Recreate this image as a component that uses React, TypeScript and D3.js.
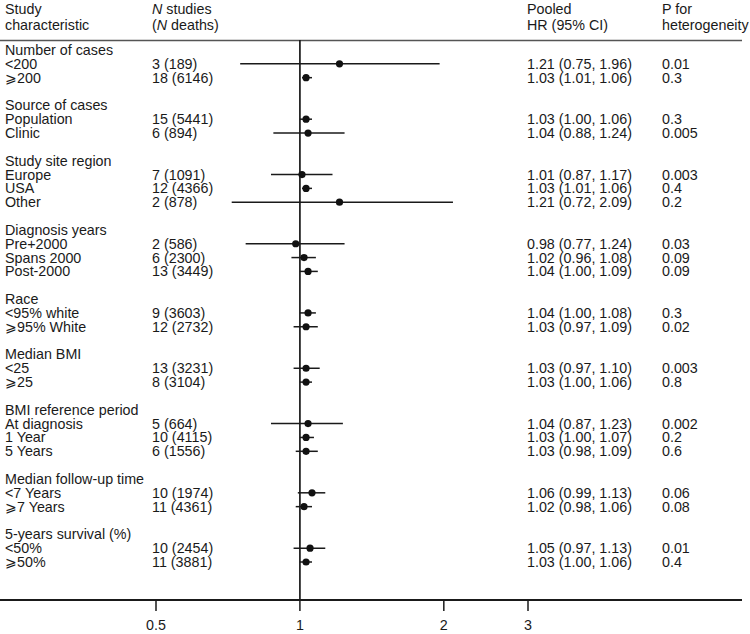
import React from "react";
import * as d3 from "d3";

const groupTitles = [
  "Number of cases",
  "Source of cases",
  "Study site region",
  "Diagnosis years",
  "Race",
  "Median BMI",
  "BMI reference period",
  "Median follow-up time",
  "5-years survival (%)",
];
const groupSizes = [2, 2, 3, 3, 2, 2, 3, 2, 2];
const subLabels = [
  "<200", "⩾200",
  "Population", "Clinic",
  "Europe", "USA", "Other",
  "Pre+2000", "Spans 2000", "Post-2000",
  "<95% white", "⩾95% White",
  "<25", "⩾25",
  "At diagnosis", "1 Year", "5 Years",
  "<7 Years", "⩾7 Years",
  "<50%", "⩾50%",
];
const nStudies = [
  "3 (189)", "18 (6146)",
  "15 (5441)", "6 (894)",
  "7 (1091)", "12 (4366)", "2 (878)",
  "2 (586)", "6 (2300)", "13 (3449)",
  "9 (3603)", "12 (2732)",
  "13 (3231)", "8 (3104)",
  "5 (664)", "10 (4115)", "6 (1556)",
  "10 (1974)", "11 (4361)",
  "10 (2454)", "11 (3881)",
];
const hr = [1.21, 1.03, 1.03, 1.04, 1.01, 1.03, 1.21, 0.98, 1.02, 1.04, 1.04, 1.03, 1.03, 1.03, 1.04, 1.03, 1.03, 1.06, 1.02, 1.05, 1.03];
const lo = [0.75, 1.01, 1.0, 0.88, 0.87, 1.01, 0.72, 0.77, 0.96, 1.0, 1.0, 0.97, 0.97, 1.0, 0.87, 1.0, 0.98, 0.99, 0.98, 0.97, 1.0];
const hi = [1.96, 1.06, 1.06, 1.24, 1.17, 1.06, 2.09, 1.24, 1.08, 1.09, 1.08, 1.09, 1.1, 1.06, 1.23, 1.07, 1.09, 1.13, 1.06, 1.13, 1.06];
const pHet = [
  "0.01", "0.3",
  "0.3", "0.005",
  "0.003", "0.4", "0.2",
  "0.03", "0.09", "0.09",
  "0.3", "0.02",
  "0.003", "0.8",
  "0.002", "0.2", "0.6",
  "0.06", "0.08",
  "0.01", "0.4",
];
const tickValues = [0.5, 1, 2, 3];

const FONT = "'Liberation Sans', Arial, Helvetica, sans-serif";

export default function App() {
  const W = 750, H = 634;
  const x = d3.scaleLog().domain([0.5, 3]).range([156, 528]);

  // build line indices
  const headers: { title: string; line: number }[] = [];
  const rows: { i: number; line: number }[] = [];
  let line = 0;
  let k = 0;
  groupTitles.forEach((t, g) => {
    headers.push({ title: t, line });
    line++;
    for (let j = 0; j < groupSizes[g]; j++) {
      rows.push({ i: k, line });
      k++;
      line++;
    }
    line++;
  });
  const lastLine = line - 2;
  const y = d3.scaleLinear().domain([0, lastLine]).range([50, 562]);

  const fs = 14.3;
  const dy = 5;
  const axisY = 600;
  const xLabel = 5, xN = 152, xHR = 527, xP = 662;

  return (
    <svg width={W} height={H} style={{ position: "absolute", left: 0, top: 0, background: "#fff" }} fontFamily={FONT} fontSize={fs}>
      <rect x={0} y={0} width={W} height={H} fill="#fff" />
      {/* column headers */}
      <g fill="#1a1a1a">
        <text x={xLabel} y={9 + dy}>Study</text>
        <text x={xLabel} y={25 + dy}>characteristic</text>
        <text x={xN} y={9 + dy}><tspan fontStyle="italic">N</tspan> studies</text>
        <text x={xN} y={25 + dy}>(<tspan fontStyle="italic">N</tspan> deaths)</text>
        <text x={xHR} y={9 + dy}>Pooled</text>
        <text x={xHR} y={25 + dy}>HR (95% CI)</text>
        <text x={xP} y={9 + dy}>P for</text>
        <text x={xP} y={25 + dy}>heterogeneity</text>
      </g>
      <line x1={0} x2={742} y1={40.5} y2={40.5} stroke="#555" strokeWidth={1.5} />
      {/* reference line at 1 */}
      <line x1={x(1)} x2={x(1)} y1={40} y2={axisY} stroke="#1a1a1a" strokeWidth={1.7} />
      {/* group headers */}
      {headers.map((h) => (
        <text key={h.title} x={xLabel} y={y(h.line) + dy} fill="#1a1a1a">{h.title}</text>
      ))}
      {rows.map(({ i, line: l }) => (
        <g key={i}>
          <text x={xLabel} y={y(l) + dy} fill="#1a1a1a">{subLabels[i]}</text>
          <text x={xN} y={y(l) + dy} fill="#1a1a1a">{nStudies[i]}</text>
          <text x={xHR} y={y(l) + dy} fill="#1a1a1a">
            {`${hr[i].toFixed(2)} (${lo[i].toFixed(2)}, ${hi[i].toFixed(2)})`}
          </text>
          <text x={xP} y={y(l) + dy} fill="#1a1a1a">{pHet[i]}</text>
          <line x1={x(lo[i])} x2={x(hi[i])} y1={y(l)} y2={y(l)} stroke="#1a1a1a" strokeWidth={1.5} />
          <circle cx={x(hr[i])} cy={y(l)} r={3.6} fill="#111" />
        </g>
      ))}
      {/* axis */}
      <line x1={0} x2={742} y1={axisY} y2={axisY} stroke="#1a1a1a" strokeWidth={2} />
      {tickValues.map((t) => (
        <g key={t}>
          <line x1={x(t)} x2={x(t)} y1={axisY} y2={axisY + 11} stroke="#1a1a1a" strokeWidth={1.5} />
          <text x={x(t)} y={625 + dy} textAnchor="middle" fill="#1a1a1a">{String(t)}</text>
        </g>
      ))}
    </svg>
  );
}
